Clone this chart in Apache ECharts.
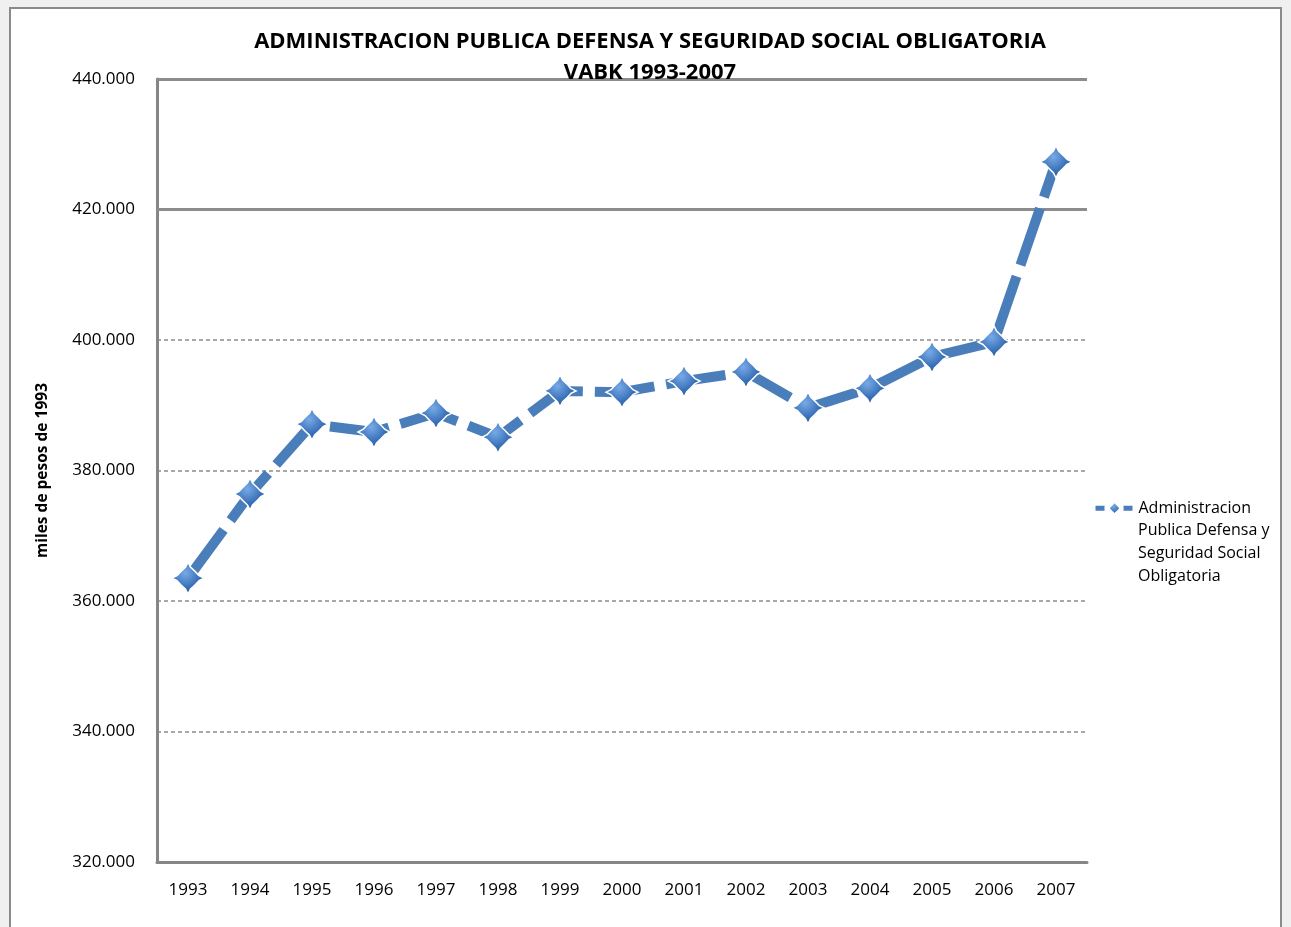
<!DOCTYPE html>
<html>
<head>
<meta charset="utf-8">
<script src="https://cdn.jsdelivr.net/npm/echarts@6/dist/echarts.min.js"></script>
<style>
    html, body { margin: 0; padding: 0; background: #f0f0f0; }
    #main { width: 1291px; height: 927px; }
</style>
</head>
<body>
<div id="main"></div>
<script>
// datos
var years = ['1993', '1994', '1995', '1996', '1997', '1998', '1999', '2000',
    '2001', '2002', '2003', '2004', '2005', '2006', '2007'];
var vabk = [363.5, 376.4, 387.1, 385.9, 388.8, 385.1, 392.2, 392.0,
    393.7, 395.1, 389.6, 392.6, 397.4, 399.7, 427.3];
var solidLines = [420, 440];
var legendLines = ['Administracion', 'Publica Defensa y', 'Seguridad Social', 'Obligatoria'];

var serieName = 'Administracion Publica Defensa y Seguridad Social Obligatoria';
var starPath = 'path://M0,-16 L2.5,-11 Q7,-7 11,-2.5 L16,0 L11,2.5 Q7,7 2.5,11 L0,16 L-2.5,11 Q-7,7 -11,2.5 L-16,0 L-11,-2.5 Q-7,-7 -2.5,-11 Z';

function fmt(v) {
    return v.toFixed(3);
}

function render() {
    var myChart = echarts.init(document.getElementById('main'));

    // resto del texto de la leyenda, debajo de la primera linea
    var legendText = legendLines.slice(1).map(function (t, i) {
        return {
            type: 'text',
            left: 1138,
            top: 522 + i * 23,
            style: {text: t, font: '16px "Open Sans", sans-serif', fill: '#000'}
        };
    });

    var option = {
        backgroundColor: 'transparent',
        textStyle: {fontFamily: 'Open Sans, sans-serif'},
        graphic: [
            {
                type: 'rect',
                shape: {x: 10, y: 8, width: 1271, height: 930},
                style: {fill: '#fff', stroke: '#8a8a8a', lineWidth: 2},
                z: -10
            }
        ].concat(legendText),
        title: {
            text: 'ADMINISTRACION PUBLICA DEFENSA Y SEGURIDAD SOCIAL OBLIGATORIA\nVABK 1993-2007',
            left: 645,
            textAlign: 'center',
            top: 21,
            textStyle: {
                fontSize: 22,
                fontWeight: 'bold',
                color: '#000',
                lineHeight: 31
            }
        },
        legend: {
            left: 1088,
            top: 495,
            itemWidth: 38,
            itemHeight: 18,
            itemGap: 4,
            lineStyle: {width: 5, type: [9, 5]},
            formatter: function () {
                return legendLines[0];
            },
            textStyle: {fontSize: 16, color: '#000'}
        },
        grid: {left: 157, top: 79, right: 204, bottom: 65},
        xAxis: [
            {
                type: 'category',
                boundaryGap: true,
                data: years,
                axisLine: {lineStyle: {color: '#868686', width: 3}},
                axisTick: {show: false},
                axisLabel: {fontSize: 17, color: '#000', margin: 20}
            }
        ],
        yAxis: [
            {
                type: 'value',
                min: 320,
                max: 440,
                interval: 20,
                name: 'miles de pesos de 1993',
                nameLocation: 'middle',
                nameGap: 106,
                nameTextStyle: {fontSize: 15.5, fontWeight: 'bold', color: '#000'},
                axisLine: {show: true, lineStyle: {color: '#868686', width: 3}},
                axisTick: {show: false},
                axisLabel: {
                    fontSize: 17, color: '#000', margin: 22,
                    formatter: function (v) { return fmt(v); }
                },
                splitLine: {lineStyle: {color: '#8c8c8c', width: 1.5, type: [4, 3]}}
            }
        ],
        series: [
            {
                name: serieName,
                type: 'line',
                data: vabk,
                symbol: starPath,
                symbolSize: [32, 32],
                lineStyle: {color: '#4a7ebb', width: 10, type: [60, 12]},
                itemStyle: {
                    color: new echarts.graphic.RadialGradient(0.42, 0.35, 0.75, [
                        {offset: 0, color: '#78aae6'},
                        {offset: 0.55, color: '#3a72ba'},
                        {offset: 1, color: '#1d4a84'}
                    ]),
                    borderColor: '#fff',
                    borderWidth: 1.5
                },
                markLine: {
                    silent: true,
                    symbol: 'none',
                    label: {show: false},
                    lineStyle: {color: '#8c8c8c', width: 3, type: 'solid'},
                    data: solidLines.map(function (v) { return {yAxis: v}; }),
                    z: 1
                },
                z: 3
            }
        ]
    };

    myChart.setOption(option);
}

render();
</script>
</body>
</html>
